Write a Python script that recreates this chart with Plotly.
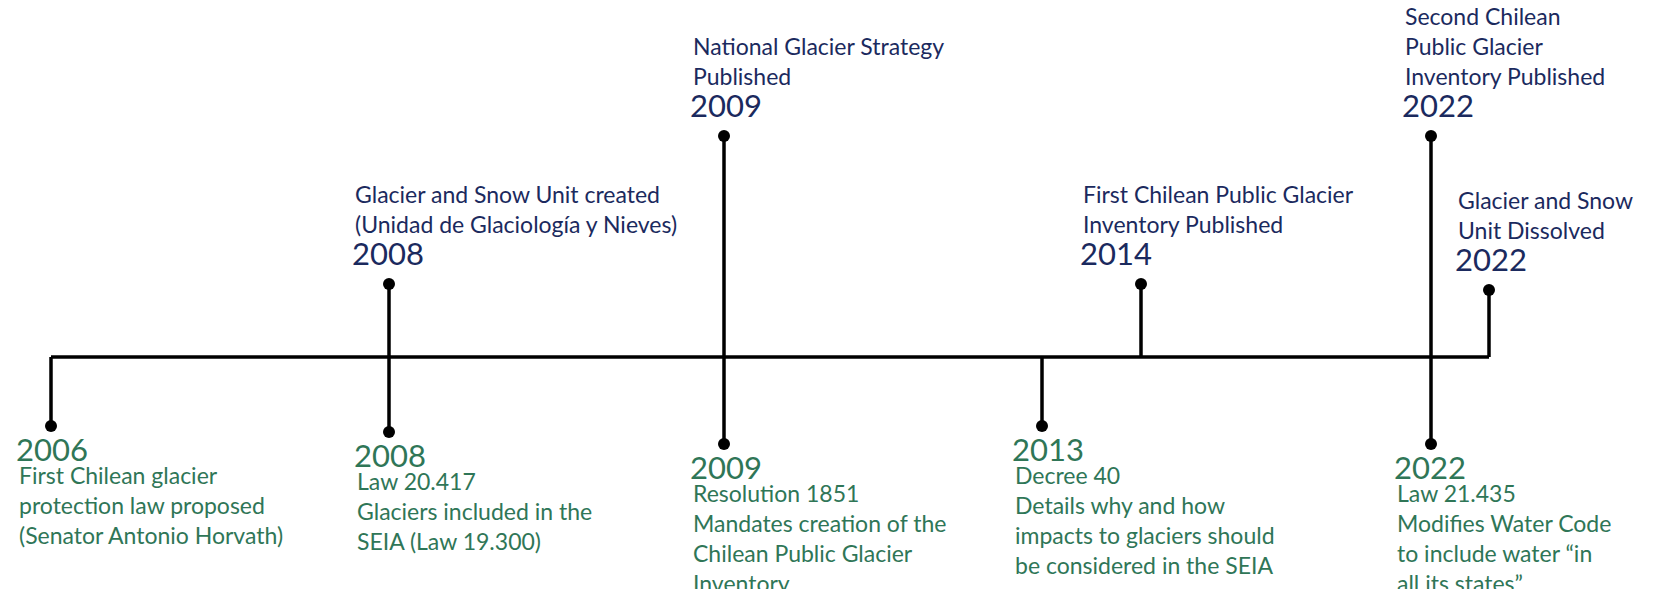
import plotly.graph_objects as go

# timeline events above the axis
top_years = ["2008", "2009", "2014", "2022", "2022"]
top_text = ["Glacier and Snow Unit created<br>(Unidad de Glaciología y Nieves)",
            "National Glacier Strategy<br>Published",
            "First Chilean Public Glacier<br>Inventory Published",
            "Second Chilean<br>Public Glacier<br>Inventory Published",
            "Glacier and Snow<br>Unit Dissolved"]
top_x = [381, 716, 1133, 1423, 1481]
top_end = [276, 128, 276, 128, 282]
top_left = [342, 680, 1070, 1392, 1445]

# timeline events below the axis
bot_years = ["2006", "2008", "2009", "2013", "2022"]
bot_text = ["First Chilean glacier<br>protection law proposed<br>(Senator Antonio Horvath)",
            "Law 20.417<br>Glaciers included in the<br>SEIA (Law 19.300)",
            "Resolution 1851<br>Mandates creation of the<br>Chilean Public Glacier<br>Inventory",
            "Decree 40<br>Details why and how<br>impacts to glaciers should<br>be considered in the SEIA",
            "Law 21.435<br>Modifies Water Code<br>to include water “in<br>all its states”"]
bot_x = [43, 381, 716, 1034, 1423]
bot_end = [418, 424, 436, 418, 436]
bot_left = [6, 344, 680, 1002, 1384]

axis_y = 349
axis_x0, axis_x1 = 43, 1481

NAVY = "#1b2a5e"
GREEN = "#2f7657"
FONT = "Lato"

fig = go.Figure()

# main axis line
fig.add_trace(go.Scatter(x=[axis_x0, axis_x1], y=[axis_y, axis_y], mode="lines",
                         line=dict(color="black", width=3.5), hoverinfo="skip"))

# stems
for xs, ends in [(top_x, top_end), (bot_x, bot_end)]:
    for x, e in zip(xs, ends):
        fig.add_trace(go.Scatter(x=[x, x], y=[axis_y, e], mode="lines",
                                 line=dict(color="black", width=3.5), hoverinfo="skip"))

# dots at stem ends
fig.add_trace(go.Scatter(x=top_x + bot_x, y=top_end + bot_end, mode="markers",
                         marker=dict(color="black", size=12), hoverinfo="skip"))

for yr, txt, e, lx in zip(top_years, top_text, top_end, top_left):
    fig.add_annotation(x=lx, y=e - 10, text=yr, showarrow=False, xanchor="left",
                       yanchor="bottom", font=dict(family=FONT, size=31, color=NAVY))
    fig.add_annotation(x=lx + 3, y=e - 44, text=txt, showarrow=False, xanchor="left",
                       yanchor="bottom", align="left",
                       font=dict(family=FONT, size=23, color=NAVY))

for yr, txt, e, lx in zip(bot_years, bot_text, bot_end, bot_left):
    fig.add_annotation(x=lx, y=e + 2, text=yr, showarrow=False, xanchor="left",
                       yanchor="top", font=dict(family=FONT, size=31, color=GREEN))
    fig.add_annotation(x=lx + 3, y=e + 33, text=txt, showarrow=False, xanchor="left",
                       yanchor="top", align="left",
                       font=dict(family=FONT, size=23, color=GREEN))

fig.update_xaxes(range=[0, 1654], visible=False, fixedrange=True)
fig.update_yaxes(range=[589, 0], visible=False, fixedrange=True)
fig.update_layout(width=1654, height=589, margin=dict(l=0, r=0, t=0, b=0),
                  plot_bgcolor="white", paper_bgcolor="white", showlegend=False)

fig.write_html("out.html")
